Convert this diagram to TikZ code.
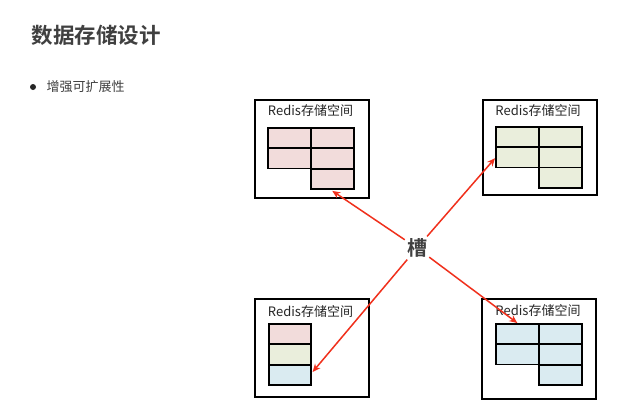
\documentclass[tikz,border=0pt]{standalone}
\usepackage{fontspec}
\setmainfont{Noto Sans CJK SC}
\newfontfamily\cjkbold{Noto Sans CJK SC Bold}
\usetikzlibrary{arrows.meta,calc}
\definecolor{txtgray}{HTML}{404040}
\definecolor{cpink}{HTML}{F2DCDB}
\definecolor{cgreen}{HTML}{EAEEDC}
\definecolor{cblue}{HTML}{DAEBF1}
\definecolor{arrred}{HTML}{F0301C}
\tikzset{
  outerbox/.style={draw=black, line width=1.8pt, minimum width=114pt, anchor=north west, inner sep=0pt},
  cell/.style={draw=black, line width=1.6pt, minimum width=43pt, minimum height=20.3pt, anchor=north west, inner sep=0pt},
  boxlabel/.style={font=\fontsize{13}{15}\selectfont, text=black!85, anchor=center},
  link/.style={draw=arrred, line width=1.5pt, -{Stealth[length=8pt,width=7pt]}},
}
\begin{document}
\begin{tikzpicture}[x=1pt,y=-1pt]
\useasboundingbox[fill=white] (0,0) rectangle (622,407);
% title and bullet
\node[anchor=west, font=\cjkbold\fontsize{21.5}{24}\selectfont, text=txtgray] (title) at (28,35) {数据存储设计};
\node[circle, fill=black!85, inner sep=0pt, minimum size=6pt] (bullet) at (33,87) {};
\node[anchor=west, font=\fontsize{13}{15}\selectfont, text=txtgray] (btext) at (43,87) {增强可扩展性};

% top-left box
\node[outerbox, minimum height=98pt] (boxTL) at (254,99) {};
\node[boxlabel] (labTL) at (310.5,111) {Redis存储空间};
\node[cell, fill=cpink] (tlA) at (267,127) {};
\node[cell, fill=cpink] (tlB) at (310,127) {};
\node[cell, fill=cpink] (tlC) at (267,147.5) {};
\node[cell, fill=cpink] (tlD) at (310,147.5) {};
\node[cell, fill=cpink] (tlE) at (310,168) {};

% top-right box
\node[outerbox, minimum height=95pt] (boxTR) at (482,99) {};
\node[boxlabel] (labTR) at (538,111) {Redis存储空间};
\node[cell, fill=cgreen] (trA) at (495,126) {};
\node[cell, fill=cgreen] (trB) at (538,126) {};
\node[cell, fill=cgreen] (trC) at (495,146.3) {};
\node[cell, fill=cgreen] (trD) at (538,146.3) {};
\node[cell, fill=cgreen] (trE) at (538,166.6) {};

% bottom-left box
\node[outerbox, minimum height=98pt] (boxBL) at (254,298) {};
\node[boxlabel] (labBL) at (310.5,312) {Redis存储空间};
\node[cell, fill=cpink, minimum width=42pt] (blA) at (268,323) {};
\node[cell, fill=cgreen, minimum width=42pt] (blB) at (268,343.5) {};
\node[cell, fill=cblue, minimum width=42pt] (blC) at (268,364) {};

% bottom-right box
\node[outerbox, minimum height=100pt] (boxBR) at (481,298) {};
\node[boxlabel] (labBR) at (538,311) {Redis存储空间};
\node[cell, fill=cblue] (brA) at (495,323) {};
\node[cell, fill=cblue] (brB) at (538,323) {};
\node[cell, fill=cblue] (brC) at (495,343.5) {};
\node[cell, fill=cblue] (brD) at (538,343.5) {};
\node[cell, fill=cblue] (brE) at (538,364) {};

% slot label and connectors
\node[font=\cjkbold\fontsize{20}{23}\selectfont, text=txtgray, inner sep=2pt] (slot) at (417,248) {槽};
\coordinate (tTL) at ($(tlE.south)+(0,1)$);
\coordinate (tTR) at ($(trC.west)+(0,1)$);
\coordinate (tBL) at ($(blC.east)+(1,-3)$);
\coordinate (tBR) at (brA.north);
\draw[link] (slot) -- (tTL);
\draw[link] (slot) -- (tTR);
\draw[link] (slot) -- (tBL);
\draw[link] (slot) -- (tBR);
\end{tikzpicture}
\end{document}
